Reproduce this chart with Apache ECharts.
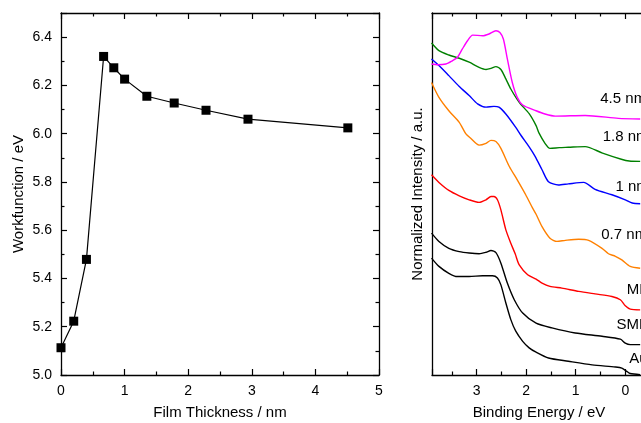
<!DOCTYPE html>
<html>
<head>
<meta charset="utf-8">
<script src="https://cdn.jsdelivr.net/npm/echarts@6/dist/echarts.min.js"></script>
<style>
  html, body { margin: 0; padding: 0; background: #fff; }
  #chart { width: 641px; height: 423px; }
</style>
</head>
<body>
<div id="chart"></div>
<script>
// left panel: workfunction vs film thickness
const thickness = [0, 0.2, 0.4, 0.67, 0.83, 1.0, 1.35, 1.78, 2.28, 2.94, 4.51];
const workfunction = [5.113, 5.223, 5.479, 6.32, 6.273, 6.226, 6.155, 6.127, 6.097, 6.06, 6.024];

// right panel: spectra (binding energy in eV, normalized intensity)
const au_E = [3.91, 3.76, 3.56, 3.39, 3.15, 2.88, 2.68, 2.58, 2.51, 2.41, 2.31, 2.21, 2.07, 1.94, 1.80, 1.55, 1.15, 0.67, 0.20, 0.07, -0.03, -0.10, -0.30];
const au_I = [32.3, 30.0, 28.1, 27.2, 27.2, 27.4, 27.4, 26.8, 24.9, 19.9, 15.3, 12.1, 9.3, 7.5, 6.3, 4.7, 3.8, 2.8, 2.2, 1.9, 1.0, 0.4, 0.1];

const sml_E = [3.91, 3.76, 3.56, 3.35, 3.15, 2.95, 2.81, 2.71, 2.61, 2.51, 2.38, 2.24, 2.07, 1.80, 1.48, 1.01, 0.47, 0.10, 0.0, -0.10, -0.30];
const sml_I = [39.2, 36.9, 35.0, 34.1, 33.7, 33.5, 33.9, 34.4, 33.8, 30.9, 25.4, 20.8, 17.1, 14.3, 13.0, 11.6, 10.7, 9.9, 8.8, 8.4, 8.4];

const ml_E = [3.91, 3.76, 3.56, 3.35, 3.15, 2.95, 2.81, 2.71, 2.65, 2.58, 2.51, 2.41, 2.31, 2.22, 2.14, 1.97, 1.80, 1.68, 1.52, 1.28, 0.94, 0.61, 0.27, 0.10, 0.0, -0.10, -0.30];
const ml_I = [55.3, 53.2, 51.0, 49.5, 48.4, 47.7, 48.4, 49.3, 49.3, 48.4, 45.6, 40.1, 36.4, 33.4, 30.4, 27.7, 26.5, 25.4, 24.5, 24.0, 23.1, 22.4, 21.7, 20.8, 19.1, 18.2, 18.0];

const nm07_E = [3.91, 3.76, 3.56, 3.35, 3.22, 3.12, 2.95, 2.81, 2.71, 2.61, 2.51, 2.34, 2.18, 2.01, 1.87, 1.80, 1.68, 1.52, 1.38, 1.21, 0.94, 0.74, 0.47, 0.34, 0.20, 0.07, -0.10, -0.30];
const nm07_I = [80.8, 76.7, 73.0, 69.8, 66.7, 65.4, 63.5, 64.0, 64.8, 64.5, 62.6, 57.6, 53.9, 49.8, 46.1, 44.4, 41.0, 37.8, 36.9, 37.2, 37.5, 37.2, 35.0, 33.5, 32.8, 31.8, 30.0, 29.5];

const nm1_E = [3.91, 3.76, 3.56, 3.35, 3.15, 2.98, 2.81, 2.65, 2.55, 2.41, 2.21, 2.11, 1.94, 1.82, 1.68, 1.55, 1.35, 1.15, 0.84, 0.61, 0.27, 0.0, -0.14, -0.30];
const nm1_I = [87.3, 85.5, 82.7, 79.7, 77.2, 74.9, 74.0, 74.2, 74.0, 72.1, 68.4, 66.3, 63.0, 60.4, 56.7, 53.4, 52.5, 52.8, 53.2, 51.3, 49.8, 48.4, 47.5, 47.3];

const nm18_E = [3.91, 3.76, 3.56, 3.35, 3.15, 2.95, 2.81, 2.71, 2.61, 2.51, 2.41, 2.31, 2.14, 1.94, 1.80, 1.74, 1.62, 1.52, 1.33, 1.15, 0.81, 0.46, 0.08, -0.08, -0.30];
const nm18_I = [91.7, 89.6, 88.4, 87.5, 86.4, 85.0, 84.4, 84.7, 85.2, 84.4, 81.8, 79.0, 75.3, 72.2, 68.9, 66.8, 64.0, 62.6, 62.8, 62.9, 63.1, 61.3, 59.6, 59.1, 59.0];

const nm45_E = [3.91, 3.79, 3.62, 3.49, 3.39, 3.29, 3.18, 3.08, 2.88, 2.75, 2.61, 2.53, 2.46, 2.38, 2.28, 2.18, 2.07, 1.80, 1.62, 1.41, 0.81, 0.14, -0.30];
const nm45_I = [85.9, 85.7, 85.9, 86.8, 87.7, 90.0, 92.4, 93.9, 93.7, 94.2, 95.1, 94.6, 92.8, 87.3, 80.8, 76.7, 74.6, 73.0, 72.1, 71.5, 71.7, 70.9, 70.7];

// curve labels, anchored at their left edge in data coordinates
const labelTexts = ['Au', 'SML', 'ML', '0.7 nm', '1 nm', '1.8 nm', '4.5 nm'];
const labelE = [-0.08, 0.18, -0.03, 0.485, 0.20, 0.455, 0.505];
const labelI = [4.4, 13.9, 23.5, 38.7, 51.9, 65.7, 76.4];

const spectraE = [au_E, sml_E, ml_E, nm07_E, nm1_E, nm18_E, nm45_E];
const spectraI = [au_I, sml_I, ml_I, nm07_I, nm1_I, nm18_I, nm45_I];
const spectraColors = ['#000000', '#000000', '#ff0000', '#ff8000', '#0000ff', '#008000', '#ff00ff'];

const FONT = '"Liberation Sans", Arial, sans-serif';
const axisLine = { show: true, onZero: false, lineStyle: { color: '#000', width: 1.3 } };
const tick = { show: true, inside: true, length: 6, lineStyle: { color: '#000', width: 1.2 } };
const minor = { show: true, splitNumber: 2, length: 3.5, lineStyle: { color: '#000', width: 1.2 } };
const tickLabel = { fontSize: 14, color: '#000', fontFamily: FONT, margin: 9 };

function pairs(xs, ys) {
  return xs.map((x, i) => [x, ys[i]]);
}

const chart = echarts.init(document.getElementById('chart'));

const spectraSeries = spectraE.map((es, k) => ({
  type: 'line',
  xAxisIndex: 2,
  yAxisIndex: 2,
  data: pairs(es, spectraI[k]),
  showSymbol: false,
  symbol: 'none',
  smooth: 0.25,
  clip: true,
  lineStyle: { color: spectraColors[k], width: 1.4 },
  itemStyle: { color: spectraColors[k] },
  silent: true,
  markPoint: {
    symbol: 'circle',
    symbolSize: 0,
    silent: true,
    label: {
      show: true,
      position: 'right',
      distance: 0,
      formatter: '{b}',
      color: '#000',
      fontSize: 15,
      fontFamily: FONT
    },
    data: [{ name: labelTexts[k], coord: [labelE[k], labelI[k]] }]
  }
}));

const option = {
  animation: false,
  backgroundColor: '#fff',
  grid: [
    { left: 61, top: 13, width: 318, bottom: 48, outerBoundsMode: 'none', containLabel: false },
    { left: 432, top: 13, width: 342, bottom: 48, outerBoundsMode: 'none', containLabel: false }
  ],
  xAxis: [
    {
      gridIndex: 0, type: 'value', position: 'bottom', min: 0, max: 5, interval: 1,
      axisLine: axisLine, axisTick: tick, minorTick: minor, axisLabel: tickLabel,
      splitLine: { show: false }
    },
    {
      gridIndex: 0, type: 'value', position: 'top', min: 0, max: 5, interval: 1,
      axisLine: axisLine, axisTick: tick, minorTick: minor, axisLabel: { show: false },
      splitLine: { show: false }
    },
    {
      gridIndex: 1, type: 'value', position: 'bottom', min: -3, max: 3.9, interval: 1, inverse: true,
      axisLine: axisLine, axisTick: tick, minorTick: minor,
      axisLabel: Object.assign({}, tickLabel, { showMaxLabel: false, showMinLabel: false }),
      splitLine: { show: false }
    },
    {
      gridIndex: 1, type: 'value', position: 'top', min: -3, max: 3.9, interval: 1, inverse: true,
      axisLine: axisLine, axisTick: tick, minorTick: minor, axisLabel: { show: false },
      splitLine: { show: false }
    }
  ],
  yAxis: [
    {
      gridIndex: 0, type: 'value', position: 'left', min: 5.0, max: 6.5, interval: 0.2,
      axisLine: axisLine, axisTick: tick, minorTick: minor,
      axisLabel: Object.assign({}, tickLabel, {
        showMaxLabel: false,
        formatter: (v) => v.toFixed(1)
      }),
      splitLine: { show: false }
    },
    {
      gridIndex: 0, type: 'value', position: 'right', min: 5.0, max: 6.5, interval: 0.2,
      axisLine: axisLine, axisTick: tick, minorTick: minor, axisLabel: { show: false },
      splitLine: { show: false }
    },
    {
      gridIndex: 1, type: 'value', position: 'left', min: 0, max: 100,
      axisLine: axisLine, axisTick: { show: false }, axisLabel: { show: false },
      splitLine: { show: false }
    }
  ],
  graphic: [
    {
      type: 'text', x: 220, y: 413,
      style: { text: 'Film Thickness / nm', fill: '#000', fontSize: 15, fontFamily: FONT, align: 'center', verticalAlign: 'middle' }
    },
    {
      type: 'text', x: 539, y: 413,
      style: { text: 'Binding Energy / eV', fill: '#000', fontSize: 15, fontFamily: FONT, align: 'center', verticalAlign: 'middle' }
    },
    {
      type: 'text', x: 19, y: 194, rotation: Math.PI / 2,
      style: { text: 'Workfunction / eV', fill: '#000', fontSize: 15, fontFamily: FONT, align: 'center', verticalAlign: 'middle' }
    },
    {
      type: 'text', x: 418, y: 194, rotation: Math.PI / 2,
      style: { text: 'Normalized Intensity / a.u.', fill: '#000', fontSize: 15, fontFamily: FONT, align: 'center', verticalAlign: 'middle' }
    }
  ],
  series: [
    {
      type: 'line',
      xAxisIndex: 0,
      yAxisIndex: 0,
      data: pairs(thickness, workfunction),
      symbol: 'rect',
      symbolSize: 9,
      clip: false,
      lineStyle: { color: '#000', width: 1.2 },
      itemStyle: { color: '#000' },
      silent: true
    }
  ].concat(spectraSeries)
};

chart.setOption(option);
</script>
</body>
</html>
